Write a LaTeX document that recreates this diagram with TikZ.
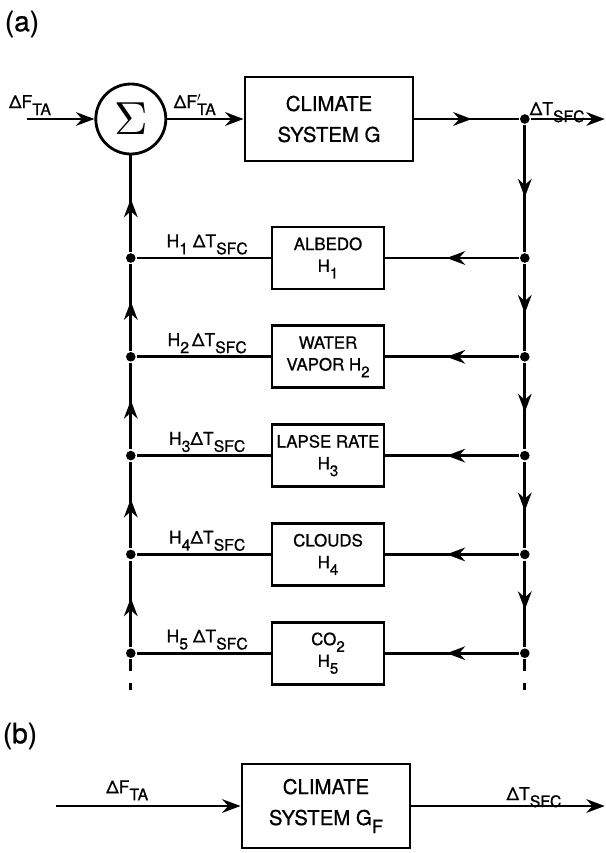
\documentclass[tikz,border=0pt]{standalone}
\usepackage{fontspec}
\setmainfont{TeX Gyre Heros}[FakeBold=0.8]
\usetikzlibrary{arrows.meta,decorations.markings}
\newcommand{\lo}[1]{\raisebox{-0.4em}{\scalebox{0.9}{#1}}}

\begin{document}
\begin{tikzpicture}[
    line width=2pt,
    >={Stealth[length=4.6mm,width=3.4mm]},
    block/.style={rectangle, draw, line width=2pt, align=center, minimum width=4.2cm, minimum height=2.1cm, font=\fontsize{14.5}{22}\selectfont},
    loopbox/.style={rectangle, draw, line width=2pt, align=center, minimum width=2.8cm, minimum height=1.55cm, inner xsep=1pt, font=\fontsize{12}{15.5}\selectfont},
    sumnode/.style={circle, draw, line width=2pt, minimum size=1.75cm, inner sep=0pt},
    dot/.style={circle, fill, inner sep=0pt, minimum size=2.4mm},
    lbl/.style={font=\fontsize{12.5}{14}\selectfont, inner sep=0pt, anchor=base},
    part/.style={font=\fontsize{20}{22}\selectfont, inner sep=0pt},
    flow/.style={postaction={decorate}, decoration={markings, mark=at position #1 with {\arrow{>}}}},
    flow/.default=0.57
  ]
    \useasboundingbox (0,0) rectangle (15.15,-21.325);

    % (a) feedback loop
    \node[part] (pa) at (0.55,-0.6) {(a)};
    \coordinate (in) at (0.675,-2.975);
    \node[sumnode] (sum) at (3.27,-2.975) {\scalebox{3.3}{$\Sigma$}};
    \node[block] (climate) at (8.225,-2.975) {CLIMATE\\SYSTEM G};
    \node[dot] (j0) at (13.12,-2.975) {};
    \coordinate (out) at (15.12,-2.975);

    \node[lbl] (fin) at (0.75,-2.7) {ΔF\lo{TA}};
    \node[lbl] (fsum) at (4.87,-2.7) {ΔF\rlap{$'$}\lo{TA}};
    \node[lbl] (tout) at (13.93,-2.875) {ΔT\lo{SFC}};

    \draw[->] (in) -- (sum);
    \draw[->] (sum) -- (climate);
    \draw[flow=0.55] (climate) -- (j0);
    \draw[->] (j0) -- (out);

    \node[dot] (r1) at (13.12,-6.45) {};
    \node[dot] (r2) at (13.12,-8.92) {};
    \node[dot] (r3) at (13.12,-11.39) {};
    \node[dot] (r4) at (13.12,-13.86) {};
    \node[dot] (r5) at (13.12,-16.33) {};
    \coordinate (rend) at (13.12,-17.25);

    \node[dot] (l1) at (3.27,-6.45) {};
    \node[dot] (l2) at (3.27,-8.92) {};
    \node[dot] (l3) at (3.27,-11.39) {};
    \node[dot] (l4) at (3.27,-13.86) {};
    \node[dot] (l5) at (3.27,-16.33) {};
    \coordinate (lend) at (3.27,-17.25);

    \node[loopbox] (h1) at (8.2,-6.45) {ALBEDO\\H\lo{1}};
    \node[loopbox] (h2) at (8.2,-8.92) {WATER\\VAPOR H\lo{2}};
    \node[loopbox] (h3) at (8.2,-11.39) {LAPSE RATE\\H\lo{3}};
    \node[loopbox] (h4) at (8.2,-13.86) {CLOUDS\\H\lo{4}};
    \node[loopbox] (h5) at (8.2,-16.33) {CO\lo{2}\\H\lo{5}};

    \node[lbl] (t1) at (5.18,-6.18) {H\lo{1} ΔT\lo{SFC}};
    \node[lbl] (t2) at (5.18,-8.65) {H\lo{2}\,ΔT\lo{SFC}};
    \node[lbl] (t3) at (5.18,-11.12) {H\lo{3}ΔT\lo{SFC}};
    \node[lbl] (t4) at (5.18,-13.59) {H\lo{4}ΔT\lo{SFC}};
    \node[lbl] (t5) at (5.18,-16.06) {H\lo{5} ΔT\lo{SFC}};

    % down the right side
    \draw[flow] (j0) -- (r1);
    \draw[flow] (r1) -- (r2);
    \draw[flow] (r2) -- (r3);
    \draw[flow] (r3) -- (r4);
    \draw[flow] (r4) -- (r5);
    \draw[dash pattern=on 0.3cm off 0.3cm] (r5) -- (rend);

    % through the feedback boxes
    \draw[flow=0.54] (r1) -- (h1);
    \draw[flow=0.54] (r2) -- (h2);
    \draw[flow=0.54] (r3) -- (h3);
    \draw[flow=0.54] (r4) -- (h4);
    \draw[flow=0.54] (r5) -- (h5);
    \draw (h1) -- (l1);
    \draw (h2) -- (l2);
    \draw (h3) -- (l3);
    \draw (h4) -- (l4);
    \draw (h5) -- (l5);

    % up the left side
    \draw[flow=0.55] (l1) -- (sum);
    \draw[flow] (l2) -- (l1);
    \draw[flow] (l3) -- (l2);
    \draw[flow] (l4) -- (l3);
    \draw[flow] (l5) -- (l4);
    \draw[dash pattern=on 0.3cm off 0.3cm] (l5) -- (lend);

    % (b) closed form
    \node[part] (pb) at (0.5,-18.4) {(b)};
    \coordinate (inb) at (1.4,-20.15);
    \node[block] (climateb) at (8.15,-20.15) {CLIMATE\\SYSTEM G\lo{F}};
    \coordinate (outb) at (15.12,-20.15);
    \node[lbl] (finb) at (3.18,-19.83) {ΔF\lo{TA}};
    \node[lbl] (toutb) at (13.35,-20.0) {ΔT\lo{SFC}};
    \draw[->] (inb) -- (climateb);
    \draw[->] (climateb) -- (outb);
  \end{tikzpicture}
\end{document}
